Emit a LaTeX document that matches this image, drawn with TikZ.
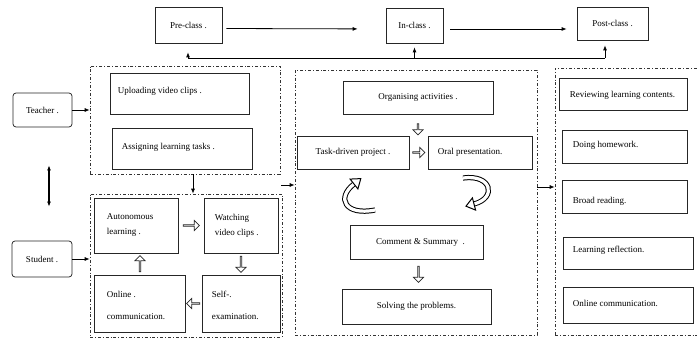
\documentclass[tikz,border=0pt]{standalone}
\usepackage{fontspec}
\setmainfont{Liberation Serif}
\usetikzlibrary{arrows.meta,shapes.arrows,fit,calc}
\newcommand\bx[5]{\node[box,fit={(#2,#3)(#4,#5)}] (#1) {};}
\begin{document}
\begin{tikzpicture}[x=1pt,y=-1pt,
  box/.style={draw=black!85,line width=0.75pt,inner sep=0pt},
  rbox/.style={box,rounded corners=3pt},
  region/.style={draw=black!80,line width=0.6pt,dash pattern=on 3pt off 2pt on 0.8pt off 2pt,inner sep=0pt},
  txt/.style={font=\fontsize{9}{11}\selectfont,inner sep=0pt},
  arr/.style={-{Latex[length=5pt,width=4pt]},line width=0.8pt},
  blk/.style={single arrow,draw=black!85,line width=0.8pt,fill=white,minimum width=10pt,single arrow head extend=2.5pt,inner sep=0pt},
  curv/.style={draw=black,line width=1pt,double=white,double distance=3.2pt},
  headsty/.style={draw=black,line width=1pt,fill=white,line join=miter}
]
\useasboundingbox (0,0) rectangle (697,339);
\clip (0,0) rectangle (697,339);

% top stage boxes
\bx{pre}{155}{7}{222}{43}
\bx{incl}{386}{8}{443}{43}
\bx{post}{577}{7}{648}{40}
\node[txt] at (pre) {Pre-class .};
\node[txt] at (incl) {In-class .};
\node[txt] at (post) {Post-class .};
\draw[arr,shorten <=4pt,shorten >=28pt] ([yshift=-3.5pt]pre.east) -- ([yshift=-3.5pt]incl.west);
\draw[arr,shorten <=7pt,shorten >=10pt] ([yshift=-3.5pt]incl.east) -- ([yshift=-3.5pt]incl.east -| post.west);

% feedback line
\coordinate (fbA) at (188,58);
\coordinate (fbC) at (605,58);
\draw[line width=0.8pt] (fbA) -- (fbC);
\draw[arr,shorten >=9pt] (fbA) -- (fbA |- pre.south);
\draw[arr,shorten >=4pt] (fbA -| incl.south) -- (incl.south);
\draw[arr,shorten >=5pt] (fbC) -- (fbC |- post.south);

% actors
\node[rbox,fit={(13,93)(72,127)}] (teacher) {};
\node[rbox,fit={(12,241)(72,277)}] (student) {};
\node[txt] at (teacher) {Teacher .};
\node[txt] at (student) {Student .};
\draw[{Latex[length=5pt,width=4pt]}-{Latex[length=5pt,width=4pt]},line width=1.2pt,shorten <=38pt,shorten >=34pt]
  ([xshift=6.5pt]teacher.south) -- ([xshift=6.5pt]teacher.south |- student.north);

% regions
\node[region,fit={(90,66)(280,174)}] (ul) {};
\node[region,fit={(90,194)(282,337)}] (ll) {};
\node[region,fit={(295,70)(537,335)}] (mid) {};
\node[region,fit={(555,68)(699,335)}] (rt) {};

\draw[arr] (teacher.east) -- (teacher.east -| ul.west);
\draw[arr] (student.east) -- (student.east -| ll.west);
\draw[arr] ([xshift=8pt]ul.south) -- ([xshift=8pt]ul.south |- ll.north);
\coordinate (lx) at (281,185);
\draw[arr] (lx) -- (lx -| mid.west);
\coordinate (my) at (546,187);
\draw[arr] (my -| mid.east) -- (my -| rt.west);

% pre-class teacher
\bx{upl}{110}{73}{249}{114}
\bx{asg}{112}{128}{252}{169}
\node[txt,anchor=west] at ([xshift=8pt,yshift=2pt]upl.west) {Uploading video clips .};
\node[txt,anchor=west] at ([xshift=10pt,yshift=1pt]asg.west) {Assigning learning tasks .};

% pre-class student
\bx{aut}{94}{198}{178}{253}
\bx{wat}{204}{198}{278}{253}
\bx{onl}{94}{275}{185}{332}
\bx{slf}{202}{275}{280}{332}
\node[txt,anchor=west,align=left,font=\fontsize{9}{15}\selectfont] at ([xshift=13pt]aut.west) {Autonomous\\learning .};
\node[txt,anchor=west,align=left,font=\fontsize{9}{15}\selectfont] at ([xshift=11pt]wat.west) {Watching\\video clips .};
\node[txt,anchor=west,align=left,font=\fontsize{9}{22}\selectfont] at ([xshift=13pt,yshift=-2pt]onl.west) {Online .\\communication.};
\node[txt,anchor=west,align=left,font=\fontsize{9}{22}\selectfont] at ([xshift=10pt,yshift=-2pt]slf.west) {Self-.\\examination.};
\node[blk,minimum height=16pt] at ($(aut.east)!0.5!(wat.west)$) {};
\node[blk,minimum height=16pt,shape border rotate=270] at ($(wat.south)!0.5!(wat.south |- slf.north)$) {};
\node[blk,minimum height=13pt,shape border rotate=180] at ($(slf.west)!0.5!(slf.west -| onl.east)$) {};
\node[blk,minimum height=16pt,shape border rotate=90,xshift=4pt] at ($(aut.south)!0.5!(aut.south |- onl.north)$) {};

% in-class
\bx{org}{343}{81}{493}{114}
\bx{tsk}{297}{136}{409}{169}
\bx{orl}{428}{136}{532}{169}
\bx{cms}{350}{225}{483}{259}
\bx{slv}{342}{289}{491}{324}
\node[txt] at (org) {Organising activities .};
\node[txt] at (tsk) {Task-driven project .};
\node[txt,anchor=west] at ([xshift=10pt]orl.west) {Oral presentation.};
\node[txt] at ([xshift=4pt]cms.center) {Comment \& Summary\enspace.};
\node[txt] at (slv) {Solving the problems.};
\node[blk,minimum height=11pt,shape border rotate=270,yshift=-4pt] at ($(org.south)!0.5!(org.south |- tsk.north)$) {};
\node[blk,minimum height=12pt] at ($(tsk.east)!0.5!(orl.west)$) {};
\node[blk,minimum height=16pt,shape border rotate=270,xshift=2pt] at ($(cms.south)!0.5!(cms.south |- slv.north)$) {};

% curved cycle arrows
\draw[curv] (375,210) .. controls (345,216) and (336,198) .. (354,184);
\draw[headsty] (357.9,188.9) -- (360.8,178.6) -- (350.1,179.1) -- cycle;
\draw[curv] (463,178) .. controls (492,174) and (497,198) .. (474,204);
\draw[headsty] (475.6,210.1) -- (466.0,206.2) -- (472.4,197.9) -- cycle;

% post-class
\bx{rev}{559}{78}{687}{110}
\bx{hom}{562}{130}{687}{163}
\bx{brd}{562}{180}{687}{213}
\bx{ref}{563}{237}{693}{269}
\bx{occ}{563}{287}{693}{323}
\node[txt,anchor=west] at ([xshift=11pt,yshift=-1pt]rev.west) {Reviewing learning contents.};
\node[txt,anchor=west] at ([xshift=11pt,yshift=1pt]hom.west) {Doing homework.};
\node[txt,anchor=west] at ([xshift=11pt,yshift=-5pt]brd.west) {Broad reading.};
\node[txt,anchor=west] at ([xshift=10pt,yshift=3pt]ref.west) {Learning reflection.};
\node[txt,anchor=west] at ([xshift=10pt,yshift=2pt]occ.west) {Online communication.};
\end{tikzpicture}
\end{document}
